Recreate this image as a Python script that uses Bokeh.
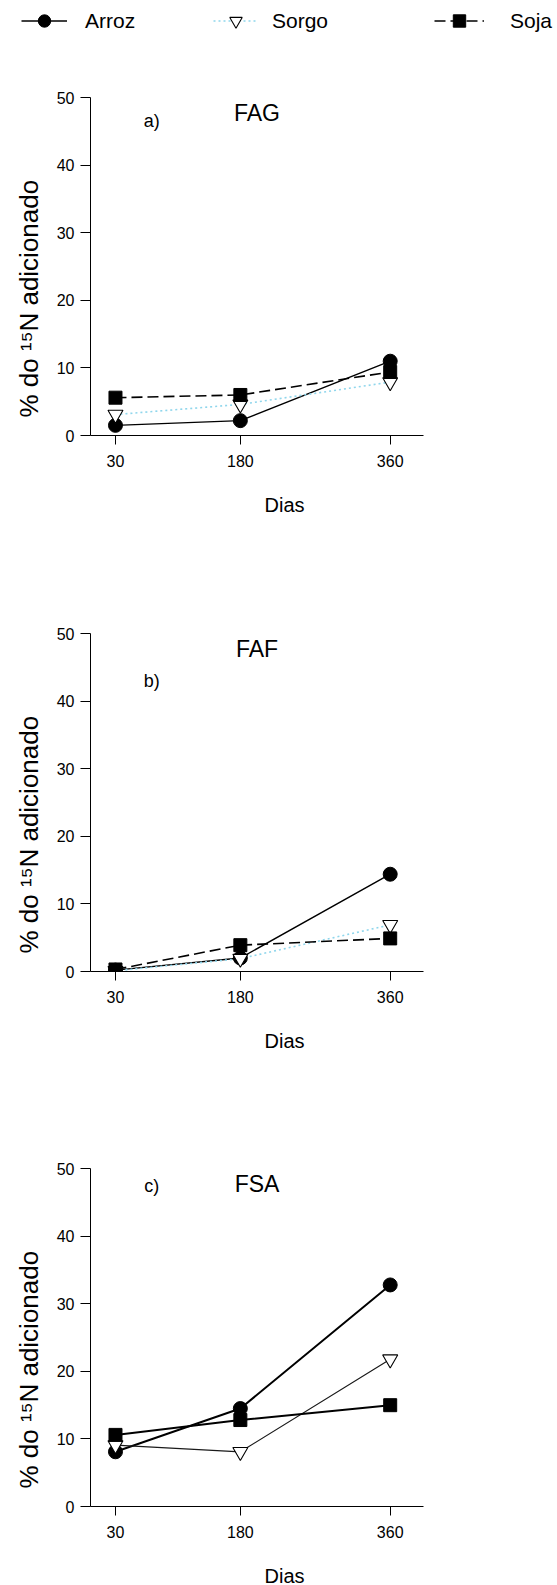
from bokeh.plotting import figure
from bokeh.models import Range1d, FixedTicker, Label, Legend, LegendItem, Title, LinearAxis
from bokeh.embed import file_html
from bokeh.resources import INLINE

# ---- data ----
days = [30, 180, 360]
x_ticks = [30, 180, 360]
y_ticks = [0, 10, 20, 30, 40, 50]
series_names = ["Arroz", "Sorgo", "Soja"]

fag_arroz = [1.5, 2.2, 11.0]
fag_sorgo = [3.1, 4.6, 7.9]
fag_soja = [5.6, 6.0, 9.4]

faf_arroz = [0.2, 2.0, 14.4]
faf_sorgo = [0.1, 1.9, 6.9]
faf_soja = [0.3, 3.9, 4.9]

fsa_arroz = [8.1, 14.5, 32.8]
fsa_sorgo = [9.1, 8.1, 21.8]
fsa_soja = [10.6, 12.8, 15.0]

panel_titles = ["FAG", "FAF", "FSA"]
panel_letters = ["a)", "b)", "c)"]
y_label = "% do \u00b9\u2075N adicionado"
x_label = "Dias"

FONT = "Liberation Sans"
SKY = "#8fd6ec"

ARROZ_STYLE = dict(line_color="black", line_width=1.4)
SORGO_STYLE = dict(line_color=SKY, line_width=1.6, line_dash="2 3")
SOJA_STYLE = dict(line_color="black", line_width=1.6, line_dash="11 5")
M_ARROZ = dict(marker="circle", size=14, fill_color="black", line_color="black")
M_SORGO = dict(marker="inverted_triangle", size=15, fill_color="white", line_color="black", line_width=1.1)
M_SOJA = dict(marker="square", size=13, fill_color="black", line_color="black")


def make_panel(title, letter, arroz, sorgo, soja, top, bottom, letter_y, solid=False):
    p = figure(frame_width=333, frame_height=358,
               min_border_left=90, min_border_right=134,
               min_border_top=top, min_border_bottom=bottom,
               x_range=Range1d(0, 400), y_range=Range1d(0, 53),
               output_backend="svg", toolbar_location=None,
               background_fill_color="white", border_fill_color="white")
    p.outline_line_color = None
    p.xgrid.visible = False
    p.ygrid.visible = False
    for ax in (p.xaxis[0], p.yaxis[0]):
        ax.axis_line_color = "black"
        ax.axis_line_width = 1
        ax.major_tick_line_color = "black"
        ax.major_tick_in = 0
        ax.minor_tick_line_color = None
        ax.major_label_text_font = FONT
        ax.major_label_text_font_size = "16px"
        ax.major_label_text_color = "black"
    p.xaxis[0].ticker = FixedTicker(ticks=x_ticks)
    p.yaxis[0].ticker = FixedTicker(ticks=y_ticks)
    p.yaxis[0].bounds = (0, 50)
    p.xaxis[0].major_tick_out = 9
    p.xaxis[0].major_label_standoff = 10
    p.yaxis[0].major_tick_out = 10
    p.yaxis[0].major_label_standoff = 6

    # empty spacer axis below the x axis (no line, no ticks, blank 1px label) to push "Dias" down
    spacer = LinearAxis(ticker=FixedTicker(ticks=[]), axis_line_color=None,
                        major_tick_line_color=None, minor_tick_line_color=None,
                        major_tick_out=0, major_tick_in=0, minor_tick_out=0, minor_tick_in=0,
                        major_label_standoff=0, axis_label=" ", axis_label_standoff=18,
                        axis_label_text_font_size="1px")
    p.add_layout(spacer, "below")
    p.add_layout(Title(text=x_label, align="left", offset=174, standoff=0,
                       text_font=FONT, text_font_size="20px", text_font_style="normal",
                       text_color="black"), "below")

    if solid:
        p.line(days, arroz, line_color="black", line_width=2)
        p.line(days, sorgo, line_color="#1a1a1a", line_width=1.2)
        p.line(days, soja, line_color="black", line_width=2)
    else:
        p.line(days, arroz, **ARROZ_STYLE)
        p.line(days, sorgo, **SORGO_STYLE)
        p.line(days, soja, **SOJA_STYLE)
    p.scatter(days, arroz, **M_ARROZ)
    p.scatter(days, sorgo, **M_SORGO)
    p.scatter(days, soja, **M_SOJA)

    p.add_layout(Label(x=200, y=47.7, text=title, text_align="center", text_baseline="alphabetic",
                       text_font=FONT, text_font_size="23px", text_color="black"))
    p.add_layout(Label(x=73.5, y=letter_y, text=letter, text_align="center", text_baseline="middle",
                       text_font=FONT, text_font_size="18px", text_color="black"))
    p.add_layout(Title(text=y_label, align="left", offset=18, standoff=20,
                       text_font=FONT, text_font_size="26px", text_font_style="normal",
                       text_color="black"), "left")
    return p


# ---- legend strip (its own root, frame covers the whole strip) ----
leg_fig = figure(frame_width=557, frame_height=42, min_border=0,
                 x_range=Range1d(0, 1), y_range=Range1d(0, 1),
                 x_axis_location=None, y_axis_location=None, output_backend="svg",
                 toolbar_location=None, background_fill_color="white", border_fill_color="white")
leg_fig.outline_line_color = None
leg_fig.xgrid.visible = False
leg_fig.ygrid.visible = False
# series drawn off-range (clipped); they only supply the legend glyph styles
ra = [leg_fig.line(days, fag_arroz, **ARROZ_STYLE), leg_fig.scatter(days, fag_arroz, **M_ARROZ)]
rs = [leg_fig.line(days, fag_sorgo, **SORGO_STYLE), leg_fig.scatter(days, fag_sorgo, **M_SORGO)]
rj = [leg_fig.line(days, fag_soja, **SOJA_STYLE), leg_fig.scatter(days, fag_soja, **M_SOJA)]
leg_specs = [(series_names[0], ra, 21, 46, 18),
             (series_names[1], rs, 213, 45, 14),
             (series_names[2], rj, 434, 50, 26)]
for name, rends, lx, gw, standoff in leg_specs:
    leg = Legend(items=[LegendItem(label=name, renderers=rends)], location=(lx, 6),
                 orientation="horizontal", glyph_width=gw, glyph_height=31,
                 label_standoff=standoff, padding=0, margin=0, spacing=0,
                 border_line_color=None, background_fill_alpha=0,
                 label_text_font=FONT, label_text_font_size="21px", label_text_color="black",
                 label_height=31)
    leg_fig.add_layout(leg)

pa = make_panel(panel_titles[0], panel_letters[0], fag_arroz, fag_sorgo, fag_soja, 35, 100, 46.6)
pb = make_panel(panel_titles[1], panel_letters[1], faf_arroz, faf_sorgo, faf_soja, 78, 99, 43.0)
pc = make_panel(panel_titles[2], panel_letters[2], fsa_arroz, fsa_sorgo, fsa_soja, 78, 79, 47.5, solid=True)

open("out.html", "w").write(file_html([leg_fig, pa, pb, pc], INLINE))
